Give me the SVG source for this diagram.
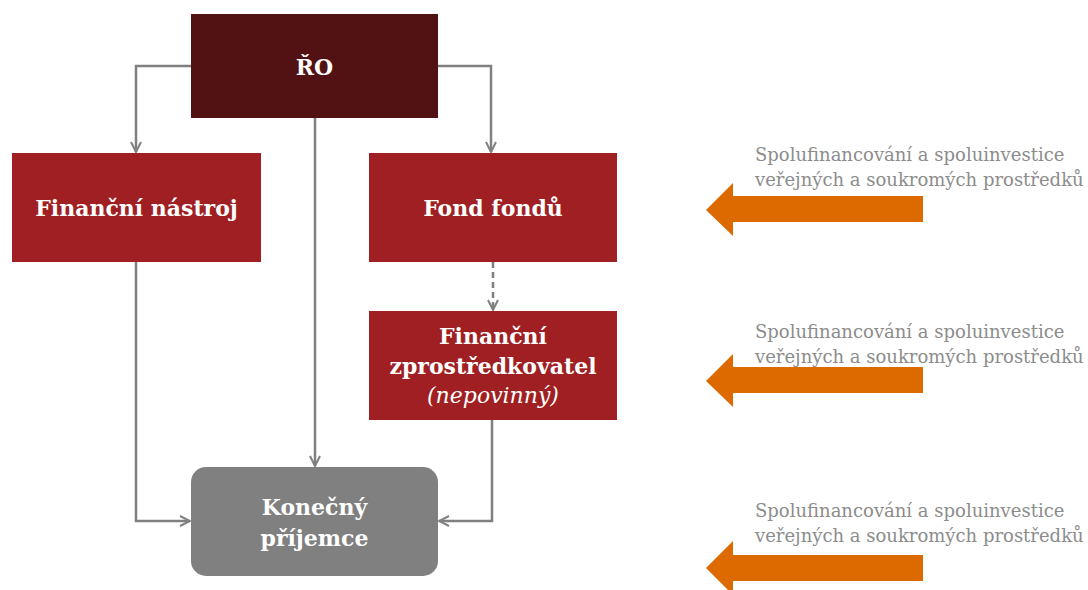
<svg xmlns="http://www.w3.org/2000/svg" width="1088" height="590" viewBox="0 0 1088 590">
<style>
.n{font-family:"DejaVu Serif","Liberation Serif",serif;font-weight:bold;font-size:22px;fill:#fff;text-anchor:middle}
.i{font-family:"DejaVu Serif","Liberation Serif",serif;font-style:italic;font-size:22px;fill:#fff;text-anchor:middle}
.c{fill:none;stroke:#808080;stroke-width:2.5}
.t{font-family:"DejaVu Serif","Liberation Serif",serif;font-size:18px;fill:#8c8c8c}
.o{fill:#DD6A00}
</style>
<defs>
<marker id="a" viewBox="0 0 12 12" refX="11" refY="6" markerWidth="12" markerHeight="12" markerUnits="userSpaceOnUse" orient="auto">
<path d="M1,1 L11,6 L1,11" fill="none" stroke="#808080" stroke-width="2"/>
</marker>
</defs>
<rect width="1088" height="590" fill="#fff"/>
<g id="connectors">
<path class="c" d="M191,66 H136 V152" marker-end="url(#a)"/>
<path class="c" d="M438,66 H491 V152" marker-end="url(#a)"/>
<path class="c" d="M315,118 V466" marker-end="url(#a)"/>
<path class="c" d="M493,262 V310" stroke-dasharray="6,4" marker-end="url(#a)"/>
<path class="c" d="M136,262 V521 H190" marker-end="url(#a)"/>
<path class="c" d="M492,420 V521 H439" marker-end="url(#a)"/>
</g>
<g id="ro">
<rect x="191" y="14" width="247" height="104" fill="#521213"/>
<text class="n" x="314.5" y="75">ŘO</text>
</g>
<g id="financni-nastroj">
<rect x="12" y="153" width="249" height="109" fill="#A01F22"/>
<text class="n" x="136.5" y="216">Finanční nástroj</text>
</g>
<g id="fond-fondu">
<rect x="369" y="153" width="248" height="109" fill="#A01F22"/>
<text class="n" x="493" y="216">Fond fondů</text>
</g>
<g id="financni-zprostredkovatel">
<rect x="369" y="311" width="248" height="109" fill="#A01F22"/>
<text class="n" x="493" y="344">Finanční</text>
<text class="n" x="493" y="374">zprostředkovatel</text>
<text class="i" x="493" y="403">(nepovinný)</text>
</g>
<g id="konecny-prijemce">
<rect x="191" y="467" width="247" height="109" rx="15" fill="#808080"/>
<text class="n" x="314.5" y="515">Konečný</text>
<text class="n" x="314.5" y="546">příjemce</text>
</g>
<g id="arrow1">
<text class="t" x="755" y="161">Spolufinancování a spoluinvestice</text>
<text class="t" x="755" y="186">veřejných a soukromých prostředků</text>
<polygon class="o" points="706,210 733,183 733,196 923,196 923,222 733,222 733,236"/>
</g>
<g id="arrow2">
<text class="t" x="755" y="338">Spolufinancování a spoluinvestice</text>
<text class="t" x="755" y="363">veřejných a soukromých prostředků</text>
<polygon class="o" points="706,381 733,354 733,367 923,367 923,393 733,393 733,407"/>
</g>
<g id="arrow3">
<text class="t" x="755" y="517">Spolufinancování a spoluinvestice</text>
<text class="t" x="755" y="542">veřejných a soukromých prostředků</text>
<polygon class="o" points="706,568 733,541 733,555 923,555 923,581 733,581 733,595"/>
</g>
</svg>
